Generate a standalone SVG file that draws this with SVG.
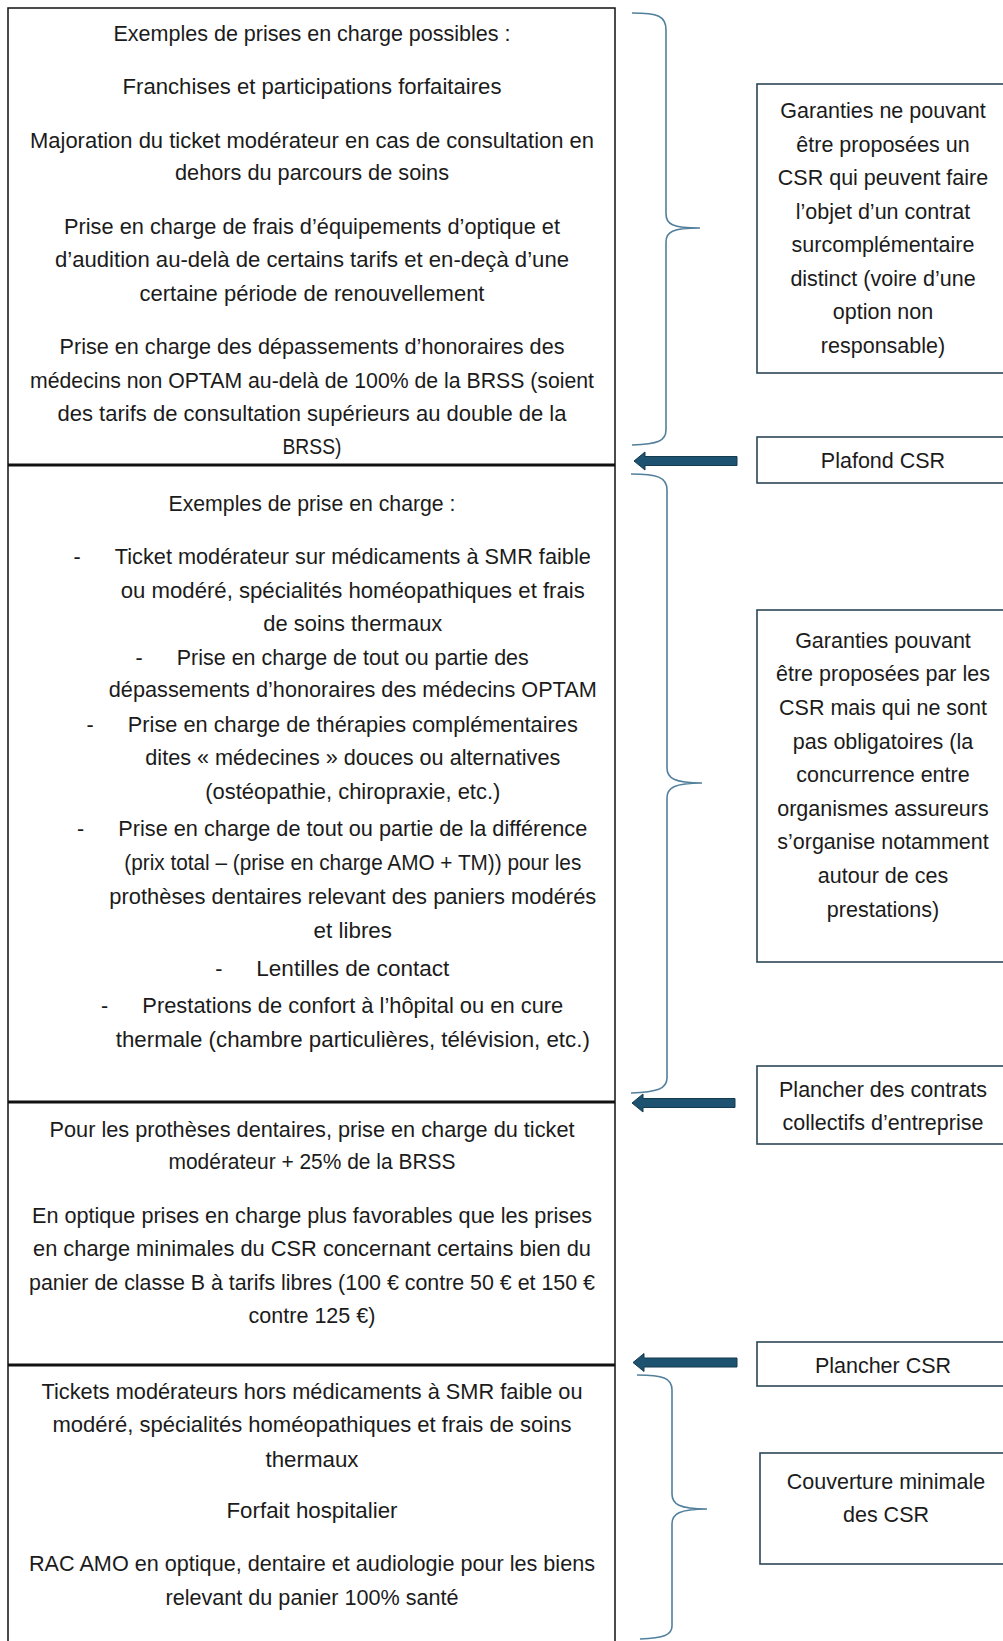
<svg xmlns="http://www.w3.org/2000/svg" width="1003" height="1641" viewBox="0 0 1003 1641">
<style>
text{font-family:"Liberation Sans",Arial,sans-serif;font-size:21.5px;fill:#1b1b1b}
.c{text-anchor:middle}
.lb{fill:#fff;stroke:#111;stroke-width:1.5}
.sep{stroke:#111;stroke-width:3}
.rb{fill:#fff;stroke:#2c4656;stroke-width:1.6}
.br{fill:none;stroke:#52809c;stroke-width:1.6}
.ar{fill:#1d5270;stroke:#143a4e;stroke-width:1}
</style>
<rect width="1003" height="1641" fill="#fff"/>
<rect class="lb" x="8" y="8" width="607" height="1650"/>
<g id="sec1">
<text class="c" x="312" y="40.8" textLength="397" lengthAdjust="spacingAndGlyphs">Exemples de prises en charge possibles :</text>
<text class="c" x="312" y="94.2" textLength="379" lengthAdjust="spacingAndGlyphs">Franchises et participations forfaitaires</text>
<text class="c" x="312" y="147.5" textLength="564" lengthAdjust="spacingAndGlyphs">Majoration du ticket modérateur en cas de consultation en</text>
<text class="c" x="312" y="179.8" textLength="274" lengthAdjust="spacingAndGlyphs">dehors du parcours de soins</text>
<text class="c" x="312" y="234.2" textLength="496" lengthAdjust="spacingAndGlyphs">Prise en charge de frais d’équipements d’optique et</text>
<text class="c" x="312" y="266.8" textLength="514" lengthAdjust="spacingAndGlyphs">d’audition au-delà de certains tarifs et en-deçà d’une</text>
<text class="c" x="312" y="300.8" textLength="345" lengthAdjust="spacingAndGlyphs">certaine période de renouvellement</text>
<text class="c" x="312" y="354.2" textLength="505" lengthAdjust="spacingAndGlyphs">Prise en charge des dépassements d’honoraires des</text>
<text class="c" x="312" y="387.5" textLength="564" lengthAdjust="spacingAndGlyphs">médecins non OPTAM au-delà de 100% de la BRSS (soient</text>
<text class="c" x="312" y="420.8" textLength="509" lengthAdjust="spacingAndGlyphs">des tarifs de consultation supérieurs au double de la</text>
<text class="c" x="312" y="454.2" textLength="59" lengthAdjust="spacingAndGlyphs">BRSS)</text>
</g>
<line class="sep" x1="8" y1="465" x2="615" y2="465"/>
<g id="sec2">
<text class="c" x="312" y="510.6" textLength="287" lengthAdjust="spacingAndGlyphs">Exemples de prise en charge :</text>
<text class="c" x="77" y="564">-</text>
<text class="c" x="352.8" y="564" textLength="476" lengthAdjust="spacingAndGlyphs">Ticket modérateur sur médicaments à SMR faible</text>
<text class="c" x="352.8" y="597.5" textLength="464" lengthAdjust="spacingAndGlyphs">ou modéré, spécialités homéopathiques et frais</text>
<text class="c" x="352.8" y="631" textLength="179" lengthAdjust="spacingAndGlyphs">de soins thermaux</text>
<text class="c" x="139.2" y="664.5">-</text>
<text class="c" x="352.8" y="664.5" textLength="352" lengthAdjust="spacingAndGlyphs">Prise en charge de tout ou partie des</text>
<text class="c" x="352.8" y="697" textLength="488" lengthAdjust="spacingAndGlyphs">dépassements d’honoraires des médecins OPTAM</text>
<text class="c" x="90" y="731.5">-</text>
<text class="c" x="352.8" y="731.5" textLength="450" lengthAdjust="spacingAndGlyphs">Prise en charge de thérapies complémentaires</text>
<text class="c" x="352.8" y="765" textLength="415" lengthAdjust="spacingAndGlyphs">dites « médecines » douces ou alternatives</text>
<text class="c" x="352.8" y="798.5" textLength="295" lengthAdjust="spacingAndGlyphs">(ostéopathie, chiropraxie, etc.)</text>
<text class="c" x="80.6" y="836.2">-</text>
<text class="c" x="352.8" y="836.2" textLength="469" lengthAdjust="spacingAndGlyphs">Prise en charge de tout ou partie de la différence</text>
<text class="c" x="352.8" y="869.7" textLength="457" lengthAdjust="spacingAndGlyphs">(prix total – (prise en charge AMO + TM)) pour les</text>
<text class="c" x="352.8" y="904.3" textLength="487" lengthAdjust="spacingAndGlyphs">prothèses dentaires relevant des paniers modérés</text>
<text class="c" x="352.8" y="937.8" textLength="78.5" lengthAdjust="spacingAndGlyphs">et libres</text>
<text class="c" x="218.8" y="975.5">-</text>
<text class="c" x="352.8" y="975.5" textLength="193" lengthAdjust="spacingAndGlyphs">Lentilles de contact</text>
<text class="c" x="104.7" y="1013.2">-</text>
<text class="c" x="352.8" y="1013.2" textLength="421" lengthAdjust="spacingAndGlyphs">Prestations de confort à l’hôpital ou en cure</text>
<text class="c" x="352.8" y="1046.7" textLength="474" lengthAdjust="spacingAndGlyphs">thermale (chambre particulières, télévision, etc.)</text>
</g>
<line class="sep" x1="8" y1="1102" x2="615" y2="1102"/>
<g id="sec3">
<text class="c" x="312" y="1136.7" textLength="525" lengthAdjust="spacingAndGlyphs">Pour les prothèses dentaires, prise en charge du ticket</text>
<text class="c" x="312" y="1169.2" textLength="287" lengthAdjust="spacingAndGlyphs">modérateur + 25% de la BRSS</text>
<text class="c" x="312" y="1222.6" textLength="560" lengthAdjust="spacingAndGlyphs">En optique prises en charge plus favorables que les prises</text>
<text class="c" x="312" y="1256.1" textLength="558" lengthAdjust="spacingAndGlyphs">en charge minimales du CSR concernant certains bien du</text>
<text class="c" x="312" y="1289.6" textLength="566" lengthAdjust="spacingAndGlyphs">panier de classe B à tarifs libres (100 € contre 50 € et 150 €</text>
<text class="c" x="312" y="1323.1" textLength="127" lengthAdjust="spacingAndGlyphs">contre 125 €)</text>
</g>
<line class="sep" x1="8" y1="1365" x2="615" y2="1365"/>
<g id="sec4">
<text class="c" x="312" y="1398.5" textLength="541" lengthAdjust="spacingAndGlyphs">Tickets modérateurs hors médicaments à SMR faible ou</text>
<text class="c" x="312" y="1432" textLength="519" lengthAdjust="spacingAndGlyphs">modéré, spécialités homéopathiques et frais de soins</text>
<text class="c" x="312" y="1466.5" textLength="93" lengthAdjust="spacingAndGlyphs">thermaux</text>
<text class="c" x="312" y="1517.8" textLength="171" lengthAdjust="spacingAndGlyphs">Forfait hospitalier</text>
<text class="c" x="312" y="1571.2" textLength="566" lengthAdjust="spacingAndGlyphs">RAC AMO en optique, dentaire et audiologie pour les biens</text>
<text class="c" x="312" y="1604.7" textLength="293" lengthAdjust="spacingAndGlyphs">relevant du panier 100% santé</text>
</g>
<g id="garanties-non">
<rect class="rb" x="757" y="84" width="252" height="289"/>
<text class="c" x="883" y="118">Garanties ne pouvant</text>
<text class="c" x="883" y="151.5">être proposées un</text>
<text class="c" x="883" y="185">CSR qui peuvent faire</text>
<text class="c" x="883" y="218.5">l’objet d’un contrat</text>
<text class="c" x="883" y="252">surcomplémentaire</text>
<text class="c" x="883" y="285.5">distinct (voire d’une</text>
<text class="c" x="883" y="319">option non</text>
<text class="c" x="883" y="352.5">responsable)</text>
</g>
<g id="plafond">
<rect class="rb" x="757" y="437" width="252" height="46"/>
<text class="c" x="883" y="468">Plafond CSR</text>
</g>
<g id="garanties-pouvant">
<rect class="rb" x="757" y="610" width="252" height="352"/>
<text class="c" x="883" y="647.8">Garanties pouvant</text>
<text class="c" x="883" y="681.4">être proposées par les</text>
<text class="c" x="883" y="715">CSR mais qui ne sont</text>
<text class="c" x="883" y="748.6">pas obligatoires (la</text>
<text class="c" x="883" y="782.2">concurrence entre</text>
<text class="c" x="883" y="815.8">organismes assureurs</text>
<text class="c" x="883" y="849.4">s’organise notamment</text>
<text class="c" x="883" y="883">autour de ces</text>
<text class="c" x="883" y="916.6">prestations)</text>
</g>
<g id="plancher-contrats">
<rect class="rb" x="757" y="1066" width="252" height="78"/>
<text class="c" x="883" y="1097">Plancher des contrats</text>
<text class="c" x="883" y="1130.4">collectifs d’entreprise</text>
</g>
<g id="plancher-csr">
<rect class="rb" x="757" y="1342" width="252" height="44"/>
<text class="c" x="883" y="1373.3">Plancher CSR</text>
</g>
<g id="couverture">
<rect class="rb" x="760" y="1453" width="252" height="111"/>
<text class="c" x="886" y="1488.5">Couverture minimale</text>
<text class="c" x="886" y="1521.5">des CSR</text>
</g>
<g id="connectors">
<path class="br" d="M632,13 C658,13 666,16 666,30 L666,214 C666,224 672,228 700,228 C672,228 666,232 666,242 L666,430 C666,441 658,444 632,445"/>
<path class="br" d="M631,474 C657,474 667,477 667,490 L667,768 C667,778 674,783 702,783 C674,783 667,788 667,798 L667,1078 C667,1089 657,1092 631,1093"/>
<path class="br" d="M637,1375 C663,1375 672,1378 672,1390 L672,1494 C672,1504 679,1509 707,1509 C679,1509 672,1514 672,1524 L672,1626 C672,1635 664,1638 640,1639"/>
<path class="ar" d="M737,456.5 L645,456.5 L645,452 L634,461 L645,470 L645,465.5 L737,465.5 Z"/>
<path class="ar" d="M735,1098.5 L643,1098.5 L643,1094 L632,1103 L643,1112 L643,1107.5 L735,1107.5 Z"/>
<path class="ar" d="M737,1358 L644,1358 L644,1353.5 L633,1362.5 L644,1371.5 L644,1367 L737,1367 Z"/>
</g>
</svg>
